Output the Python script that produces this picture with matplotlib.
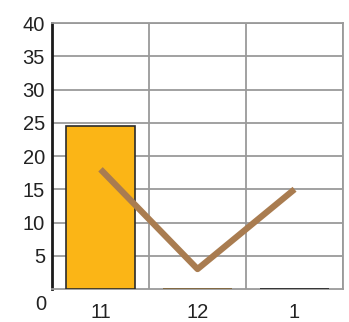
import matplotlib
matplotlib.use("Agg")
from matplotlib import pyplot as plt
from matplotlib.transforms import ScaledTranslation

plt.rcParams['font.family'] = ['Liberation Sans', 'DejaVu Sans']

months = ["11", "12", "1"]
bar_values = [24.5, 0, 0]
line_values = [18, 3, 15]
y_ticks = [5, 10, 15, 20, 25, 30, 35, 40]

fig = plt.figure(figsize=(3.49, 3.22), dpi=100)
ax = fig.add_axes([0.149, 0.1025, 0.834, 0.826])

centers = [i + 0.5 for i in range(len(months))]

ax.bar(centers, bar_values, width=0.72, color="#fbb516",
       edgecolor=["#2b2b2b", "#7d5f30", "#222222"], linewidth=1.2, zorder=3)
ax.plot(centers, line_values, color="#a97c50", linewidth=4.5,
        solid_capstyle="butt", zorder=4)

ax.set_xlim(0, 3)
ax.set_ylim(0, 40)

ax.set_yticks(y_ticks)
ax.set_xticks([1, 2, 3])
ax.set_xticklabels([])
ax.set_xticks(centers, minor=True)
ax.set_xticklabels(months, minor=True)

ax.grid(True, which="major", color="#9a9a9a", linewidth=1.3, zorder=1)
ax.tick_params(axis="both", which="both", length=0, labelsize=14.5, colors="#222222")
ax.tick_params(axis="y", pad=5)
ax.tick_params(axis="x", which="minor", pad=10)

# zero label sits a little below the baseline
ax.text(0, 0, "0", fontsize=14.5, color="#222222", ha="right", va="center",
        transform=ax.get_yaxis_transform() + ScaledTranslation(-0.06, -0.16, fig.dpi_scale_trans))

for side in ["top", "right", "bottom"]:
    ax.spines[side].set_color("#9a9a9a")
    ax.spines[side].set_linewidth(1.3)
ax.spines["left"].set_color("#1a1a1a")
ax.spines["left"].set_linewidth(2)

fig.savefig("out.png", dpi=100)
